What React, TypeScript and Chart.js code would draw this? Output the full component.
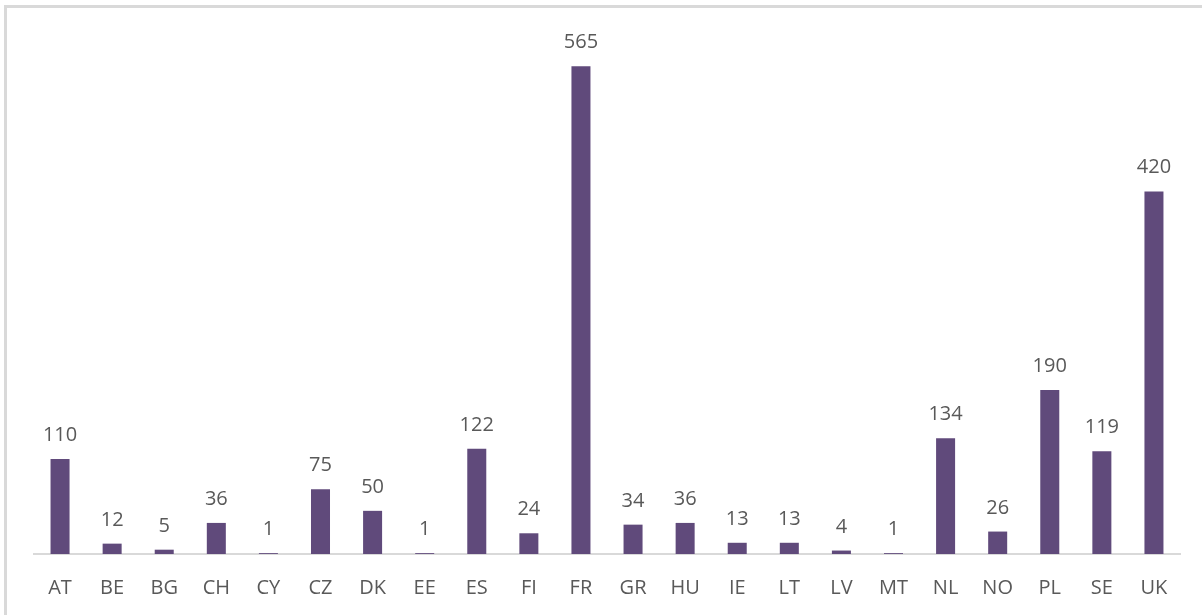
import React, { useEffect, useRef } from "react";
import { Chart, registerables } from "chart.js";

Chart.register(...registerables);

const categories = ["AT", "BE", "BG", "CH", "CY", "CZ", "DK", "EE", "ES", "FI", "FR", "GR", "HU", "IE", "LT", "LV", "MT", "NL", "NO", "PL", "SE", "UK"];
const values = [110, 12, 5, 36, 1, 75, 50, 1, 122, 24, 565, 34, 36, 13, 13, 4, 1, 134, 26, 190, 119, 420];

const FONT = "'Open Sans', sans-serif";
const TEXT_COLOR = "#595959";
const BAR_COLOR = "#604A7B";

const valueLabels = {
  id: "valueLabels",
  afterDatasetsDraw(chart: any) {
    const ctx = chart.ctx;
    const meta = chart.getDatasetMeta(0);
    ctx.save();
    ctx.font = `20px ${FONT}`;
    ctx.fillStyle = TEXT_COLOR;
    ctx.textAlign = "center";
    ctx.textBaseline = "alphabetic";
    meta.data.forEach((bar: any, i: number) => {
      ctx.fillText(String(values[i]), bar.x, bar.y - 18);
    });
    ctx.restore();
  },
};

export default function App() {
  const ref = useRef<HTMLCanvasElement>(null);
  useEffect(() => {
    if (!ref.current) return;
    const chart = new Chart(ref.current, {
      type: "bar",
      data: {
        labels: categories,
        datasets: [
          {
            data: values,
            backgroundColor: BAR_COLOR,
            barPercentage: 0.365,
            categoryPercentage: 1,
          },
        ],
      },
      options: {
        animation: false,
        responsive: false,
        maintainAspectRatio: false,
        layout: { padding: { left: 34, right: 22, top: 36, bottom: 18 } },
        plugins: { legend: { display: false }, tooltip: { enabled: false } },
        scales: {
          x: {
            grid: { display: false, drawTicks: false },
            border: { display: true, color: "#d9d9d9", width: 2 },
            ticks: { color: TEXT_COLOR, font: { family: FONT, size: 20 }, padding: 22, maxRotation: 0, autoSkip: false },
          },
          y: { display: false, min: 0, max: 600 },
        },
      },
      plugins: [valueLabels],
    });
    return () => chart.destroy();
  }, []);
  return (
    <div style={{ position: "fixed", left: 0, top: 0, width: 1202, height: 615, overflow: "hidden", background: "#fff" }}>
      <div style={{ position: "absolute", left: 4, top: 5, width: 1400, height: 800, border: "3px solid #d9d9d9", boxSizing: "border-box" }} />
      <canvas ref={ref} width={1202} height={640} style={{ position: "absolute", left: 0, top: 0 }} />
    </div>
  );
}
